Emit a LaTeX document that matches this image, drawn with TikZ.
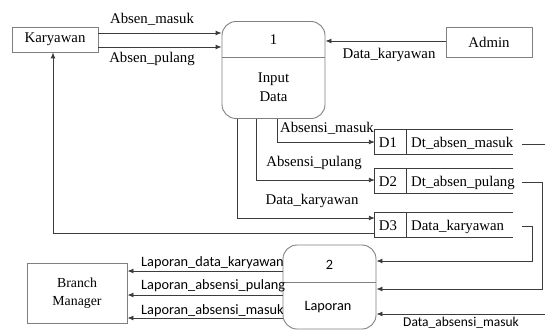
\documentclass[tikz,border=0pt]{standalone}
\usepackage{fontspec}
\setmainfont{Liberation Serif}
\newfontfamily\calib{Carlito}
\usetikzlibrary{arrows.meta}
\definecolor{boxgray}{RGB}{128,128,128}
\definecolor{linegray}{RGB}{60,60,60}
\begin{document}
\begin{tikzpicture}[x=1pt,y=-1pt,
  serif/.style={font=\fontsize{14.8}{18}\selectfont},
  sans/.style={font=\calib\fontsize{14.3}{17}\selectfont},
  box/.style={draw=boxgray, line width=0.9pt, inner sep=0pt, serif},
  proc/.style={draw=boxgray, line width=0.9pt, rounded corners=14pt, inner sep=0pt},
  divider/.style={draw=boxgray, line width=0.9pt},
  storeline/.style={draw=linegray, line width=0.8pt},
  flow/.style={draw=linegray, line width=0.9pt, -{Latex[length=6pt,width=5pt]}},
  plain/.style={draw=linegray, line width=0.9pt},
  lbl/.style={serif, inner sep=0pt, anchor=base},
  slbl/.style={sans, inner sep=0pt, anchor=base west}]
\useasboundingbox (0,0) rectangle (545,331);

% external entities
\node[box, minimum width=86pt, minimum height=25pt] (kar) at (55,39.5) {Karyawan};
\node[box, minimum width=86pt, minimum height=30pt] (adm) at (489,42) {Admin};
\node[box, minimum width=100pt, minimum height=60pt, align=center,
      font=\fontsize{13.8}{18.5}\selectfont] (bm) at (77,293) {Branch\\Manager};

% process 1
\node[proc, minimum width=103pt, minimum height=97pt] (p1) at (273.5,70) {};
\draw[divider] (p1.west |- 0,57) -- (p1.east |- 0,57);
\node[lbl] (p1num) at (273.5,45) {1};
\node[lbl] (p1name) at (273.5,83) {Input};
\node[lbl] (p1name2) at (273.5,102) {Data};

% process 2
\node[proc, minimum width=93pt, minimum height=84pt] (p2) at (329.5,287) {};
\draw[divider] (p2.west |- 0,282) -- (p2.east |- 0,282);
\node[sans, inner sep=0pt, anchor=base] (p2num) at (329.5,269) {2};
\node[sans, inner sep=0pt, anchor=base] (p2name) at (328,310) {Laporan};

% data stores
\foreach \n/\y/\t in {d1/142/Dt\_absen\_masuk, d2/180.5/Dt\_absen\_pulang, d3/224.5/Data\_karyawan}{
  \node[minimum width=138pt, minimum height=24.5pt, inner sep=0pt] (\n) at (444,\y) {};
  \draw[storeline] (\n.north east) -- (\n.north west) -- (\n.south west) -- (\n.south east);
  \draw[storeline] ([xshift=32pt]\n.north west) -- ([xshift=32pt]\n.south west);
  \node[lbl, anchor=base west] (\n txt) at (411,\y+5.5) {\t};
}
\node[lbl] (d1id) at (388,147.5) {D1};
\node[lbl] (d2id) at (388,186) {D2};
\node[lbl] (d3id) at (388,230) {D3};

% flows Karyawan / Admin -> process 1
\draw[flow] (kar.east |- 0,33) -- (p1.west |- 0,33);
\draw[flow] (kar.east |- 0,47) -- (p1.west |- 0,47);
\node[lbl] (labmasuk) at (152,24) {Absen\_masuk};
\node[lbl] (labpulang) at (152,63) {Absen\_pulang};
\draw[flow] (adm.west |- 0,41) -- (p1.east |- 0,41);
\node[lbl] (labadm) at (389,59) {Data\_karyawan};

% process 1 -> stores
\draw[flow] ([xshift=3.5pt]p1.south) |- (d1.west);
\draw[flow] ([xshift=-17.5pt]p1.south) |- ([yshift=0.5pt]d2.west);
\draw[flow] ([xshift=-36.5pt]p1.south) |- ([yshift=6.5pt]d3.west);
\node[lbl] (labd1) at (327,133) {Absensi\_masuk};
\node[lbl] (labd2) at (314,166) {Absensi\_pulang};
\node[lbl] (labd3) at (312,204) {Data\_karyawan};

% store D3 -> Karyawan
\draw[flow] ([yshift=-8.5pt]d3.west) -| ([xshift=-2pt]kar.south);

% stores -> process 2
\coordinate (e1) at (547,144);
\coordinate (e2) at (547,314);
\draw[plain] ([xshift=9pt,yshift=-2pt]d1.east) -- (e1);
\draw[flow] ([xshift=9pt,yshift=-1.5pt]d2.east) -- ++(20,0) |- ([yshift=-2pt]p2.east);
\draw[flow] ([xshift=9pt,yshift=-1.5pt]d3.east) -- ++(10,0) |- ([yshift=26pt]p2.east);
\draw[flow] (e2) -- ([yshift=-27pt]p2.east);
\node[slbl, font=\calib\fontsize{13.5}{16}\selectfont] (labdam) at (403,326.5) {Data\_absensi\_masuk};

% process 2 -> Branch Manager
\draw[flow] (p2.west |- 0,271) -- (bm.east |- 0,271);
\draw[flow] (p2.west |- 0,295) -- (bm.east |- 0,295);
\draw[flow] (p2.west |- 0,318) -- (bm.east |- 0,318);
\node[slbl] (lab1) at (141,266) {Laporan\_data\_karyawan};
\node[slbl] (lab2) at (141,289) {Laporan\_absensi\_pulang};
\node[slbl] (lab3) at (141,314) {Laporan\_absensi\_masuk};
\end{tikzpicture}
\end{document}
